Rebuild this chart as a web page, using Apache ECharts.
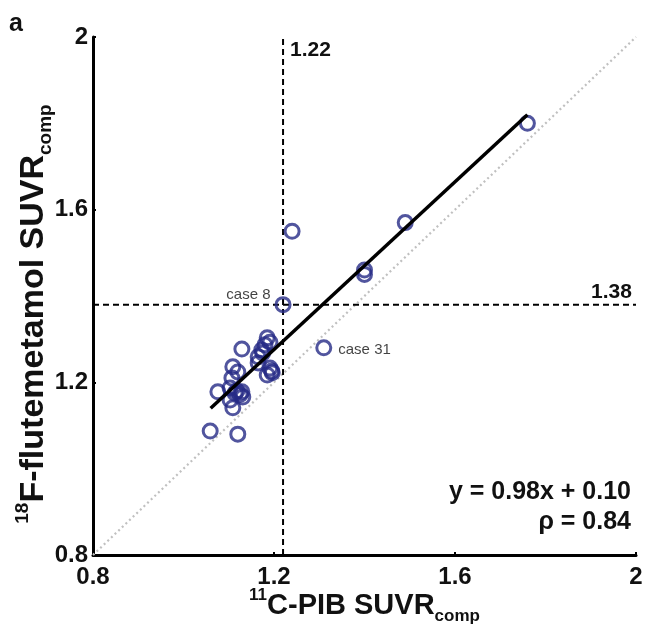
<!DOCTYPE html>
<html>
<head>
<meta charset="utf-8">
<script src="https://cdn.jsdelivr.net/npm/echarts@6/dist/echarts.min.js"></script>
<style>html,body{margin:0;padding:0;background:#fff}#c{width:646px;height:633px}</style>
</head>
<body>
<div id="c"></div>
<script>
var pibX = [1.76,1.49,1.40,1.40,1.24,1.22,1.31,1.129,1.185,1.191,1.180,1.173,1.165,1.165,1.191,1.196,1.185,1.109,1.120,1.107,1.076,1.103,1.114,1.129,1.131,1.103,1.109,1.059,1.120,1.195,1.125,1.118,1.175];
var flutY = [1.80,1.57,1.46,1.45,1.55,1.38,1.28,1.277,1.303,1.293,1.287,1.275,1.259,1.245,1.233,1.222,1.217,1.236,1.224,1.210,1.178,1.187,1.175,1.178,1.166,1.159,1.141,1.087,1.080,1.226,1.172,1.180,1.268];
var pointNames = {5:'case 8', 6:'case 31'};
var regression = [[1.06,1.14],[1.76,1.82]];
var identity = [[0.8,0.8],[2,2]];
var cutX = 1.22, cutY = 1.38;
var axisTicks = ['0.8','1.2','1.6','2'];
var eqText = 'y = 0.98x + 0.10', rhoText = 'ρ = 0.84';

var F = 'Liberation Sans, Arial, sans-serif';
var C = '#111';
function rich(m, s, lh, subPad){
  return {
    sup:{fontSize:s,fontWeight:'bold',fontFamily:F,color:C,verticalAlign:'top',lineHeight:lh},
    main:{fontSize:m,fontWeight:'bold',fontFamily:F,color:C,lineHeight:lh},
    sub:{fontSize:s,fontWeight:'bold',fontFamily:F,color:C,verticalAlign:'bottom',lineHeight:lh,padding:[subPad,0,0,0]}
  };
}
var pts = pibX.map(function(x,i){
  var d = {value:[x, flutY[i]]};
  if (pointNames[i]) {
    d.label = {show:true, formatter:pointNames[i], fontSize:15, color:C, fontFamily:F,
      position: i===5 ? 'left' : 'right', distance: i===5 ? 4 : 6, offset: i===5 ? [0,-10] : [0,2]};
  }
  return d;
});
function tickFmt(v){var s=String(+v.toFixed(1));return axisTicks.indexOf(s)>=0?s:'';}
var chart = echarts.init(document.getElementById('c'));
chart.setOption({
  animation:false,
  grid:{left:93,right:10,top:37,bottom:78,containLabel:false,outerBoundsMode:'none'},
  xAxis:{type:'value',min:0.8,max:2,interval:0.4,
    name:'{sup|11}{main|C-PIB SUVR}{sub|comp}',nameLocation:'middle',nameGap:32,nameMoveOverlap:false,
    nameTextStyle:{rich:rich(29,17,38,13)},
    axisLine:{lineStyle:{color:'#000',width:3}},
    axisTick:{inside:true,length:3,lineStyle:{color:'#000',width:2}},
    splitLine:{show:false},
    axisLabel:{fontSize:24,fontWeight:'bold',fontFamily:F,color:C,margin:10,formatter:tickFmt}
  },
  yAxis:{type:'value',min:0.8,max:2,interval:0.4,
    name:'{sup|18}{main|F-flutemetamol SUVR}{sub|comp}',nameLocation:'middle',nameGap:38,nameRotate:90,nameMoveOverlap:false,
    nameTextStyle:{rich:rich(34,19,42,15),padding:[0,36,0,0]},
    axisLine:{show:true,lineStyle:{color:'#000',width:3}},
    axisTick:{show:true,inside:true,length:3,lineStyle:{color:'#000',width:2}},
    splitLine:{show:false},
    axisLabel:{fontSize:24,fontWeight:'bold',fontFamily:F,color:C,margin:5,formatter:tickFmt}
  },
  series:[
    {type:'line',data:identity,symbol:'none',silent:true,lineStyle:{color:'#c0c0c0',width:2.2,type:[2,3]},z:1},
    {type:'line',data:[[cutX,0.8],[cutX,2]],symbol:'none',silent:true,lineStyle:{color:'#000',width:2,type:[6,4]},z:2,
      endLabel:{show:true,formatter:String(cutX),fontSize:21,fontWeight:'bold',fontFamily:F,color:C,offset:[-1,13]}},
    {type:'line',data:[[0.8,cutY],[2,cutY]],symbol:'none',silent:true,lineStyle:{color:'#000',width:2,type:[6,4]},z:2,
      endLabel:{show:true,formatter:String(cutY),fontSize:21,fontWeight:'bold',fontFamily:F,color:C,offset:[-53,-12]}},
    {type:'scatter',data:pts,symbol:'circle',symbolSize:14,z:3,
      itemStyle:{color:'rgba(0,0,0,0)',borderColor:'#262a86',borderWidth:3}},
    {type:'line',data:regression,symbol:'none',silent:true,lineStyle:{color:'#000',width:3.5},z:4}
  ],
  graphic:[
    {type:'text',left:9,top:12,style:{text:'a',fontSize:25,fontWeight:'bold',fontFamily:F,fill:C}},
    {type:'text',right:15,top:480,style:{text:eqText,fontSize:25,fontWeight:'bold',fontFamily:F,fill:C,align:'right'}},
    {type:'text',right:15,top:510,style:{text:rhoText,fontSize:25,fontWeight:'bold',fontFamily:F,fill:C,align:'right'}}
  ]
});
</script>
</body>
</html>
